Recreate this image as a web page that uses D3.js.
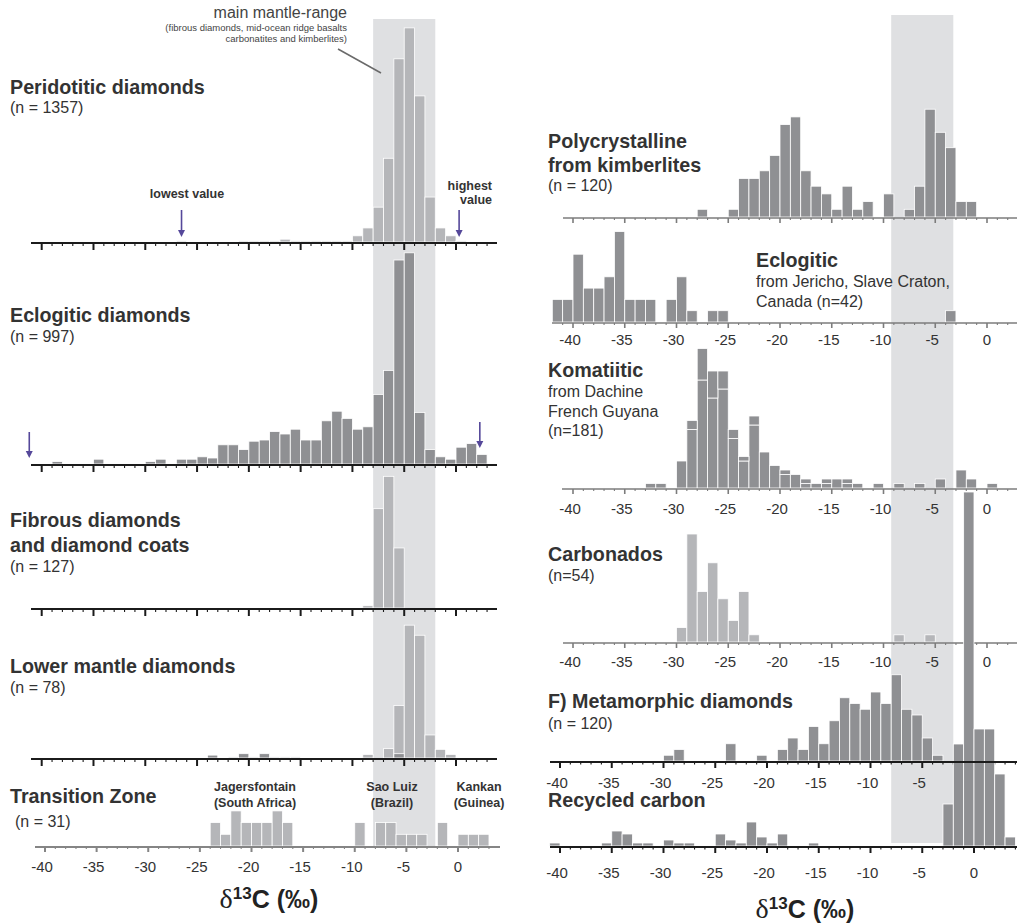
<!DOCTYPE html>
<html>
<head>
<meta charset="utf-8">
<script src="https://cdn.jsdelivr.net/npm/d3@7"></script>
<style>body{margin:0;background:#fff}</style>
</head>
<body>
<svg id="chart" width="1017" height="923"></svg>
<script>
// δ13C histograms, 1 ‰ bins: [binStart, value]
const peridotitic = [[-27,2],[-21,2],[-20,2],[-19,2],[-18,2],[-17,5],[-16,2],[-15,2],[-14,2],[-13,2],[-12,2],[-11,2],
  [-10,11],[-9,25],[-8,62],[-7,149],[-6,326],[-5,381],[-4,260],[-3,80],[-2,25],[-1,11],[0,2]];
const eclogitic = [[-39,2],[-35,4],[-30,2],[-29,4],[-27,4],[-26,4],[-25,6],[-24,5],[-23,16],[-22,16],[-21,12],[-20,19],
  [-19,20],[-18,27],[-17,25],[-16,29],[-15,20],[-14,20],[-13,36],[-12,44],[-11,38],[-10,29],[-9,31],[-8,58],[-7,78],
  [-6,170],[-5,176],[-4,43],[-3,12],[-2,6],[-1,4],[0,14],[1,17],[2,8]];
const fibrous = [[-9,1],[-8,43],[-7,57],[-6,26]];
// lower mantle, % of samples: all diamonds (light) and the dark subset
const lowerMantleAll = [[-22,0.3],[-21,0.3],[-20,0.3],[-19,0.3],[-18,0.3],[-17,0.3],[-16,0.3],
  [-9,1.0],[-7,2.6],[-6,14.6],[-5,36.9],[-4,34.1],[-3,6.4],[-2,2.4],[-1,1.0]];
const lowerMantleSub = [[-24,0.8],[-21,1.2],[-19,1.2],[-6,1.2]];
const transition = [[-24,2],[-23,1],[-22,3],[-21,2],[-20,2],[-19,2],[-18,3],[-17,2],[-10,2],[-8,2],[-7,2],[-6,1],[-5,1],[-4,1],
  [-2,2],[0,1],[1,1],[2,1]];
const polycrystalline = [[-28,1],[-25,1],[-24,5],[-23,5],[-22,6],[-21,8],[-20,12],[-19,13],[-18,6],[-17,4],[-16,3],[-15,1],
  [-14,4],[-13,1],[-12,2],[-10,3],[-8,1],[-7,4],[-6,14],[-5,11],[-4,9],[-3,2],[-2,2]];
const jericho = [[-42,2],[-41,2],[-40,6],[-39,3],[-38,3],[-37,4],[-36,8],[-35,2],[-34,2],[-33,2],[-31,2],[-30,4],[-29,1],
  [-27,1],[-26,1],[-4,1]];
// komatiitic: [binStart, lower group, upper group]
const komatiitic = [[-33,1,0],[-32,1,0],[-30,6,0],[-29,13,2],[-28,24,7],[-27,20,6],[-26,22,4],[-25,11,2],[-24,6,1],[-23,14,2],
  [-22,8,0],[-21,5,0],[-20,3,1],[-19,3,0],[-18,1,1],[-17,1,0],[-16,1,1],[-15,2,0],[-14,1,1],[-13,1,0],[-11,1,0],[-9,1,0],
  [-7,1,0],[-5,2,0],[-3,4,0],[-2,2,0],[0,1,0]];
const carbonados = [[-30,2],[-29,15],[-28,7],[-27,11],[-26,6],[-25,3],[-24,7],[-23,1],[-9,1],[-6,1]];
const metamorphic = [[-30,1],[-29,2],[-24,3],[-21,1],[-19,2],[-18,4],[-17,2],[-16,6],[-15,3],[-14,7],[-13,11],[-12,10],
  [-11,9],[-10,12],[-9,10],[-8,15],[-7,9],[-6,8],[-5,4],[-4,1]];
const recycled = [[-41,1],[-36,1],[-35,5],[-34,4],[-33,1],[-32,1],[-30,2],[-29,1],[-28,1],[-25,4],[-24,2],[-23,1],[-22,8],
  [-21,3],[-20,1],[-19,4],[-16,1],[-3,14],[-2,34],[-1,118],[0,39],[1,39],[2,24],[3,3]];
const mantleRange = [-8, -2];
const tickLabels = [-40, -35, -30, -25, -20, -15, -10, -5, 0];

const FONT = '"Liberation Sans", Arial, Helvetica, sans-serif';
const DARK = '#8f9093', LIGHT = '#b5b6b9', BAND = '#dfe0e2', TEXT = '#333', ARROW = '#55489a';

const svg = d3.select('#chart');

// x scales (the right-hand column panels are offset from each other in the source figure)
const xLeft = d3.scaleLinear().domain([-40, 0]).range([41.7, 456]);
const xTZ = d3.scaleLinear().domain([-40, 0]).range([45, 458]);
const xRightTop = d3.scaleLinear().domain([-40, 0]).range([573, 987]);
const xRightLow = d3.scaleLinear().domain([-40, 0]).range([560, 974]);

const AX_BLACK = { color: '#1b1b1b', w: 2, major: 7, minor: 3 };
const AX_GREY = { color: '#7c7c7c', w: 1.6, major: 5, minor: 2 };
const AX_TZ = { color: '#858585', w: 2, major: 5, minor: 2 };
const AX_BLACK_R = { color: '#1b1b1b', w: 2, major: 6, minor: 2.5 };

function yScale(axisY, unit) {
  return d3.scaleLinear().domain([0, 1]).range([axisY - 1, axisY - 1 - unit]);
}

function drawBars(g, data, x, y, color) {
  g.append('g').selectAll('rect').data(data).join('rect')
    .attr('x', d => x(d[0])).attr('width', d => x(d[0] + 1) - x(d[0]))
    .attr('y', d => y(d[1])).attr('height', d => y(0) - y(d[1]))
    .attr('fill', color).attr('stroke', '#fff').attr('stroke-width', 0.8);
}

function drawStacked(g, data, x, y, color) {
  const s = g.append('g');
  s.selectAll('rect.lo').data(data).join('rect').attr('class', 'lo')
    .attr('x', d => x(d[0])).attr('width', d => x(d[0] + 1) - x(d[0]))
    .attr('y', d => y(d[1])).attr('height', d => y(0) - y(d[1]))
    .attr('fill', color).attr('stroke', '#fff').attr('stroke-width', 0.8);
  s.selectAll('rect.hi').data(data.filter(d => d[2] > 0)).join('rect').attr('class', 'hi')
    .attr('x', d => x(d[0])).attr('width', d => x(d[0] + 1) - x(d[0]))
    .attr('y', d => y(d[1] + d[2])).attr('height', d => y(d[1]) - y(d[1] + d[2]))
    .attr('fill', color).attr('stroke', '#fff').attr('stroke-width', 0.8);
}

function drawAxis(g, x, axisY, ext, st, labelY, skip = []) {
  const a = g.append('g');
  a.append('line').attr('x1', ext[0]).attr('x2', ext[1]).attr('y1', axisY).attr('y2', axisY)
    .attr('stroke', st.color).attr('stroke-width', st.w);
  const lo = Math.ceil(x.invert(ext[0] + 1)), hi = Math.floor(x.invert(ext[1] - 1));
  const ticks = d3.range(lo, hi + 1);
  a.selectAll('line.t').data(ticks).join('line').attr('class', 't')
    .attr('x1', d => x(d)).attr('x2', d => x(d))
    .attr('y1', axisY).attr('y2', d => axisY + (d % 5 === 0 ? st.major : st.minor))
    .attr('stroke', st.color).attr('stroke-width', d => d % 5 === 0 ? st.w : 1.1);
  if (labelY != null) {
    a.selectAll('text').data(tickLabels.filter(v => !skip.includes(v))).join('text')
      .attr('x', d => x(d) + (d < 0 ? -3 : 0)).attr('y', labelY)
      .attr('text-anchor', 'middle')
      .style('font-family', FONT).style('font-size', '15px').style('fill', TEXT)
      .text(d => d);
  }
}

function title(lines, x, y0, gaps) {
  let y = y0;
  lines.forEach((ln, i) => {
    if (i > 0) y += gaps[i - 1];
    svg.append('text').attr('x', ln.dx != null ? x + ln.dx : x).attr('y', y)
      .style('font-family', FONT).style('font-size', ln.bold ? '19.7px' : '16px')
      .style('font-weight', ln.bold ? '700' : '400').style('fill', TEXT)
      .text(ln.t);
  });
}

function arrow(x, y1, y2) {
  svg.append('line').attr('x1', x).attr('x2', x).attr('y1', y1).attr('y2', y2 - 5)
    .attr('stroke', ARROW).attr('stroke-width', 1.6);
  svg.append('path').attr('d', `M${x - 3.5},${y2 - 7}L${x + 3.5},${y2 - 7}L${x},${y2}Z`).attr('fill', ARROW);
}

// ---------- shaded main mantle range ----------
svg.append('rect').attr('x', xLeft(mantleRange[0])).attr('width', xLeft(mantleRange[1]) - xLeft(mantleRange[0]))
  .attr('y', 19).attr('height', 828).attr('fill', BAND);
svg.append('rect').attr('x', xRightLow(mantleRange[0])).attr('width', xRightLow(mantleRange[1]) - xRightLow(mantleRange[0]))
  .attr('y', 15).attr('height', 828).attr('fill', BAND);

// ---------- left column ----------
const L = svg.append('g');
drawBars(L, peridotitic, xLeft, yScale(243, 0.562), LIGHT);
drawAxis(L, xLeft, 243, [31, 497], AX_BLACK);
drawBars(L, eclogitic, xLeft, yScale(465, 1.2), DARK);
drawAxis(L, xLeft, 465, [31, 497], AX_BLACK);
drawBars(L, fibrous, xLeft, yScale(609, 2.31), LIGHT);
drawAxis(L, xLeft, 609, [31, 497], AX_BLACK);
drawBars(L, lowerMantleAll, xLeft, yScale(759, 3.6), LIGHT);
drawBars(L, lowerMantleSub, xLeft, yScale(759, 3.6), DARK);
drawAxis(L, xLeft, 759, [31, 497], AX_BLACK);
drawBars(L, transition, xTZ, yScale(847, 11.7), LIGHT);
drawAxis(L, xTZ, 847, [35, 500], AX_TZ, 872);

title([{ t: 'Peridotitic diamonds', bold: true }, { t: '(n = 1357)' }], 10, 94, [19]);
title([{ t: 'Eclogitic diamonds', bold: true }, { t: '(n = 997)' }], 10, 322, [20]);
title([{ t: 'Fibrous diamonds', bold: true }, { t: 'and diamond coats', bold: true }, { t: '(n = 127)' }], 10, 527, [25, 20]);
title([{ t: 'Lower mantle diamonds', bold: true }, { t: '(n = 78)' }], 10, 673, [20]);
title([{ t: 'Transition Zone', bold: true }, { t: '(n = 31)', dx: 5 }], 10, 803, [24]);

// main mantle-range annotation
svg.append('text').attr('x', 347).attr('y', 18).attr('text-anchor', 'end')
  .style('font-family', FONT).style('font-size', '16px').style('fill', '#444').text('main mantle-range');
[['(fibrous diamonds, mid-ocean ridge basalts', 31], ['carbonatites and kimberlites)', 42]].forEach(([t, y]) => {
  svg.append('text').attr('x', 347).attr('y', y).attr('text-anchor', 'end')
    .style('font-family', FONT).style('font-size', '9.5px').style('fill', '#444').text(t);
});
svg.append('line').attr('x1', 338).attr('y1', 49).attr('x2', 381).attr('y2', 73)
  .attr('stroke', '#6a6a6a').attr('stroke-width', 1.5);

// lowest / highest value markers
svg.append('text').attr('x', 187).attr('y', 198).attr('text-anchor', 'middle')
  .style('font-family', FONT).style('font-size', '12.5px').style('font-weight', '700').style('fill', TEXT).text('lowest value');
svg.append('text').attr('x', 492).attr('y', 190).attr('text-anchor', 'end')
  .style('font-family', FONT).style('font-size', '12.5px').style('font-weight', '700').style('fill', TEXT).text('highest');
svg.append('text').attr('x', 492).attr('y', 204).attr('text-anchor', 'end')
  .style('font-family', FONT).style('font-size', '12.5px').style('font-weight', '700').style('fill', TEXT).text('value');
arrow(xLeft(-26.5), 210, 237);
arrow(xLeft(0.3), 210, 237);
arrow(xLeft(-41.2), 432, 458);
arrow(xLeft(2.3), 422, 448);

// transition-zone localities
[['Jagersfontain', '(South Africa)', 255], ['Sao Luiz', '(Brazil)', 392], ['Kankan', '(Guinea)', 479]].forEach(([a, b, x]) => {
  svg.append('text').attr('x', x).attr('y', 791).attr('text-anchor', 'middle')
    .style('font-family', FONT).style('font-size', '12.5px').style('font-weight', '700').style('fill', TEXT).text(a);
  svg.append('text').attr('x', x).attr('y', 807).attr('text-anchor', 'middle')
    .style('font-family', FONT).style('font-size', '12.5px').style('font-weight', '700').style('fill', TEXT).text(b);
});

// ---------- right column ----------
const R = svg.append('g');
drawBars(R, polycrystalline, xRightTop, yScale(218, 7.7), DARK);
drawAxis(R, xRightTop, 218, [563, 1017], AX_GREY);
drawBars(R, jericho, xRightTop, yScale(323, 11.3), DARK);
drawAxis(R, xRightTop, 323, [552, 1017], AX_GREY, 345);
drawStacked(R, komatiitic, xRightTop, yScale(489, 4.5), DARK);
drawAxis(R, xRightTop, 489, [562, 1017], AX_GREY, 514);
drawBars(R, carbonados, xRightTop, yScale(643, 7.2), LIGHT);
drawAxis(R, xRightTop, 643, [563, 1017], AX_GREY, 667);
drawBars(R, metamorphic, xRightLow, yScale(762, 5.75), DARK);
drawAxis(R, xRightLow, 762, [550, 1017], AX_BLACK_R, 788, [0]);
drawBars(R, recycled, xRightLow, yScale(847, 3), DARK);
// metamorphic axis line sits over the recycled bars
R.append('line').attr('x1', 550).attr('x2', 1017).attr('y1', 762).attr('y2', 762)
  .attr('stroke', AX_BLACK_R.color).attr('stroke-width', AX_BLACK_R.w);
drawAxis(R, xRightLow, 847, [550, 1017], AX_BLACK_R, 878);

title([{ t: 'Polycrystalline', bold: true }, { t: 'from kimberlites', bold: true }, { t: '(n = 120)' }], 548, 148, [24, 19]);
title([{ t: 'Eclogitic', bold: true }, { t: 'from Jericho, Slave Craton,' }, { t: 'Canada (n=42)' }], 756, 267, [20, 20]);
title([{ t: 'Komatiitic', bold: true }, { t: 'from Dachine' }, { t: 'French Guyana' }, { t: '(n=181)' }], 548, 377, [20, 20, 19]);
title([{ t: 'Carbonados', bold: true }, { t: '(n=54)' }], 548, 561, [20]);
title([{ t: 'F) Metamorphic diamonds', bold: true }, { t: '(n = 120)' }], 548, 708, [21]);
title([{ t: 'Recycled carbon', bold: true }], 548, 807, []);

// x-axis titles
function deltaLabel(cx, y) {
  const t = svg.append('text').attr('x', cx).attr('y', y).attr('text-anchor', 'middle')
    .style('font-family', FONT).style('font-weight', '700').style('fill', '#222');
  t.append('tspan').style('font-family', '"Liberation Serif", "Times New Roman", serif').style('font-weight', '400')
    .style('font-size', '28px').text('δ');
  t.append('tspan').attr('dy', -9).style('font-size', '17px').text('13');
  t.append('tspan').attr('dy', 9).style('font-size', '25px').text('C (‰)');
}
deltaLabel(269, 908);
deltaLabel(805, 918);
</script>
</body>
</html>
